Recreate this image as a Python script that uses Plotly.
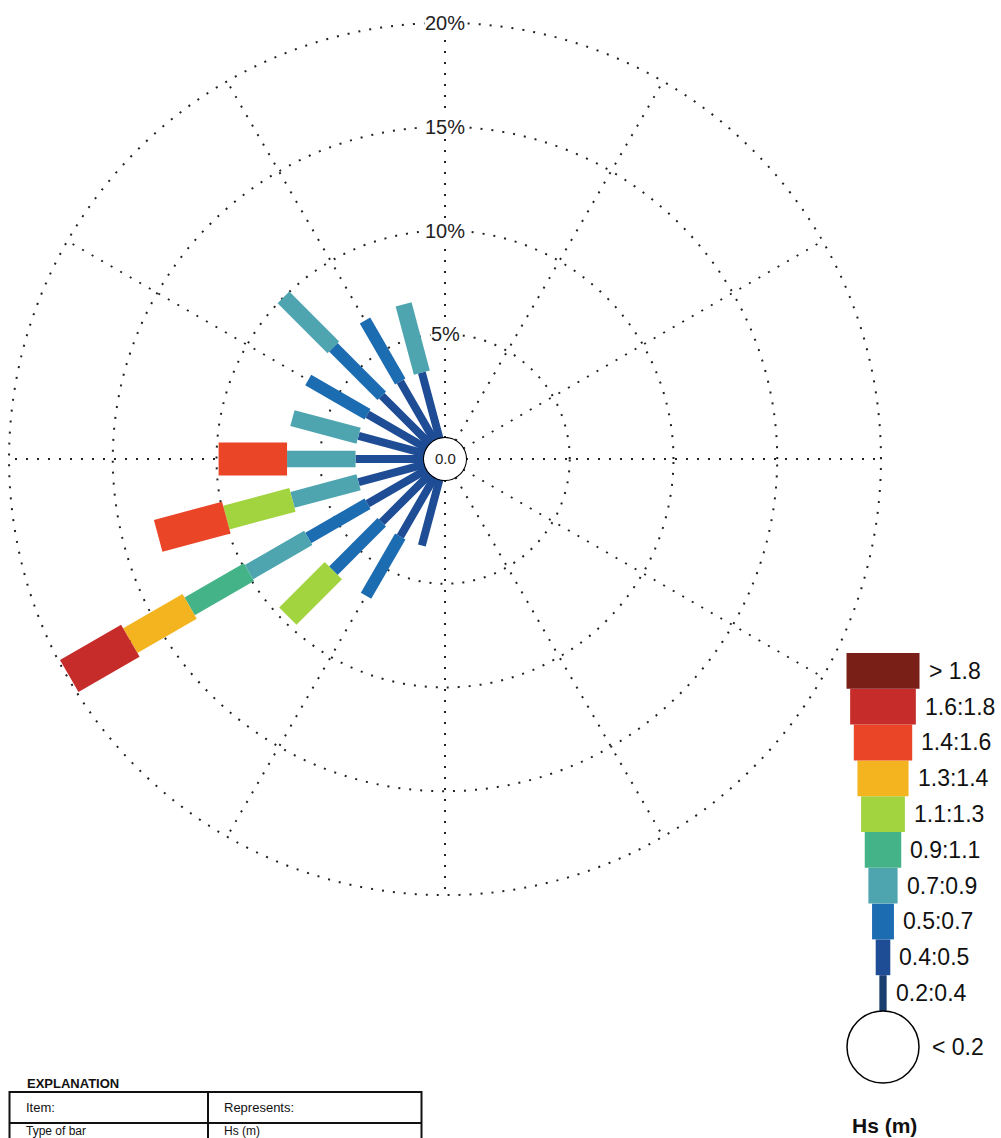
import plotly.graph_objects as go

# ---------------- data ----------------
directions = list(range(0, 360, 15))  # compass directions (deg, clockwise from N)
class_labels = ["0.2:0.4", "0.4:0.5", "0.5:0.7", "0.7:0.9", "0.9:1.1",
                "1.1:1.3", "1.3:1.4", "1.4:1.6", "1.6:1.8", "> 1.8"]
class_colors = ["#1b3e70", "#1e4c95", "#1c6cb1", "#4ea5b0", "#44b388",
                "#a2d440", "#f3b41f", "#ea4527", "#c62c2a", "#7a1e18"]
calm_label = "< 0.2"
calm_pct = 0.0
radial_ticks = [5, 10, 15, 20]
radial_tick_text = ["5%", "10%", "15%", "20%"]

# percent of time per Hs class, per direction (24 directions, 0..345 by 15)
#            0  15 30 45 60 75 90 105 120 135 150 165 180 195  210  225  240  255  270  285  300  315  330  345
hs_02_04 = [0, 0, 0, 0, 0, 0, 0, 0,  0,  0,  0,  0,  0,  0,   0,   0,   0,   0,   0,   0,   0,   0,   0,   0]
hs_04_05 = [0, 0, 0, 0, 0, 0, 0, 0,  0,  0,  0,  0,  0,  3.3, 3.3, 3.3, 3.3, 3.3, 3.3, 3.3, 3.3, 3.3, 3.3, 3.3]
hs_05_07 = [0, 0, 0, 0, 0, 0, 0, 0,  0,  0,  0,  0,  0,  0,   3.3, 3.3, 3.3, 0,   0,   0,   3.3, 3.3, 3.4, 0]
hs_07_09 = [0, 0, 0, 0, 0, 0, 0, 0,  0,  0,  0,  0,  0,  0,   0,   0,   3.3, 3.3, 3.3, 3.3, 0,   3.4, 0,   3.4]
hs_09_11 = [0, 0, 0, 0, 0, 0, 0, 0,  0,  0,  0,  0,  0,  0,   0,   0,   3.3, 0,   0,   0,   0,   0,   0,   0]
hs_11_13 = [0, 0, 0, 0, 0, 0, 0, 0,  0,  0,  0,  0,  0,  0,   0,   3.1, 0,   3.3, 0,   0,   0,   0,   0,   0]
hs_13_14 = [0, 0, 0, 0, 0, 0, 0, 0,  0,  0,  0,  0,  0,  0,   0,   0,   3.3, 0,   0,   0,   0,   0,   0,   0]
hs_14_16 = [0, 0, 0, 0, 0, 0, 0, 0,  0,  0,  0,  0,  0,  0,   0,   0,   0,   3.4, 3.3, 0,   0,   0,   0,   0]
hs_16_18 = [0, 0, 0, 0, 0, 0, 0, 0,  0,  0,  0,  0,  0,  0,   0,   0,   3.4, 0,   0,   0,   0,   0,   0,   0]
hs_gt_18 = [0, 0, 0, 0, 0, 0, 0, 0,  0,  0,  0,  0,  0,  0,   0,   0,   0,   0,   0,   0,   0,   0,   0,   0]
class_values = [hs_02_04, hs_04_05, hs_05_07, hs_07_09, hs_09_11,
                hs_11_13, hs_13_14, hs_14_16, hs_16_18, hs_gt_18]

# ---------------- styling / layout constants ----------------
W, H = 1001, 1138
CX, CY = 445, 459          # polar centre in page pixels
R = 437                    # outer polar radius (px)
HOLE_PX = 21               # calm circle radius (px)
RMAX = 20.05
K = (R - HOLE_PX) / RMAX   # px per percent

bar_px = [4, 8, 12, 16.5, 20.5, 24.5, 28.5, 33, 37, 41]          # rose bar widths (px)
key_px = [7.3, 14.6, 21.9, 29.2, 36.5, 43.8, 51.1, 58.4, 65.7, 73]  # key widths (px)
FONT = "Liberation Sans, Arial, sans-serif"

fig = go.Figure()

# ---------------- rose bars (constant-width radial strokes) ----------------
base = [0.0] * len(directions)
for ci, vals in enumerate(class_values):
    rr, tt = [], []
    for di, d in enumerate(directions):
        v = vals[di]
        if v > 0:
            rr += [base[di], base[di] + v, None]
            tt += [d, d, None]
            base[di] += v
    if rr:
        fig.add_trace(go.Scatterpolar(
            r=rr, theta=tt, mode="lines", connectgaps=False,
            line=dict(color=class_colors[ci], width=bar_px[ci]),
            showlegend=False, hoverinfo="skip", cliponaxis=False))

# calm circle (r = 0 sits on the hole edge)
fig.add_trace(go.Scatterpolar(
    r=[calm_pct] * 181, theta=list(range(0, 362, 2)), mode="lines",
    line=dict(color="black", width=2), showlegend=False, hoverinfo="skip",
    cliponaxis=False))

fig.update_layout(
    width=W, height=H, margin=dict(l=0, r=0, t=0, b=0),
    paper_bgcolor="white", plot_bgcolor="white", showlegend=False,
    polar=dict(
        domain=dict(x=[(CX - R) / W, (CX + R) / W],
                    y=[(H - CY - R) / H, (H - CY + R) / H]),
        hole=HOLE_PX / R,
        bgcolor="white",
        radialaxis=dict(range=[0, RMAX], tickvals=radial_ticks, showticklabels=False,
                        ticks="", showline=False, showgrid=True, gridcolor="#222",
                        gridwidth=2, griddash="2px,9px", angle=90),
        angularaxis=dict(direction="clockwise", rotation=90, tickmode="linear",
                         tick0=0, dtick=30, showticklabels=False, ticks="",
                         showline=False, showgrid=True, gridcolor="#222",
                         gridwidth=2, griddash="2px,9px"),
    ),
)

annotations = []
# radial percentage labels along north axis
for v, txt in zip(radial_ticks, radial_tick_text):
    ypx = CY - (HOLE_PX + v * K)
    annotations.append(dict(x=CX / W, y=1 - ypx / H, xref="paper", yref="paper",
                            text=txt, showarrow=False, bgcolor="white",
                            font=dict(family=FONT, size=20, color="#222"),
                            xanchor="center", yanchor="middle", borderpad=0))
# calm value
annotations.append(dict(x=CX / W, y=1 - CY / H, xref="paper", yref="paper",
                        text=f"{calm_pct:.1f}", showarrow=False,
                        font=dict(family=FONT, size=15, color="#222"),
                        xanchor="center", yanchor="middle"))

# ---------------- key (Hs classes) on a cartesian axis ----------------
KEY_CX = 883           # px
SEG_PX = 35.8          # px per class block
KEY_BOTTOM = 1011      # px (bottom of first block)
X0, X1 = 790, 1001
Y0, Y1 = 1100, 640
fig.add_trace(go.Bar(
    x=[0] * len(class_labels), y=[1] * len(class_labels),
    base=list(range(len(class_labels))), width=key_px,
    marker=dict(color=class_colors, line=dict(width=0)),
    xaxis="x", yaxis="y", showlegend=False, hoverinfo="skip"))
fig.add_trace(go.Scatter(
    x=[0], y=[-36 / SEG_PX], mode="markers",
    marker=dict(symbol="circle", size=72, color="white",
                line=dict(color="black", width=1.5)),
    xaxis="x", yaxis="y", showlegend=False, hoverinfo="skip", cliponaxis=False))
fig.update_layout(
    xaxis=dict(domain=[X0 / W, X1 / W], range=[X0 - KEY_CX, X1 - KEY_CX],
               visible=False, fixedrange=True),
    yaxis=dict(domain=[(H - Y0) / H, (H - Y1) / H],
               range=[(KEY_BOTTOM - Y0) / SEG_PX, (KEY_BOTTOM - Y1) / SEG_PX],
               visible=False, fixedrange=True),
)
for i, lab in enumerate(class_labels):
    annotations.append(dict(x=key_px[i] / 2 + 7, y=i + 0.5, xref="x", yref="y",
                            text=lab, showarrow=False, xanchor="left", yanchor="middle",
                            font=dict(family=FONT, size=23, color="#111")))
annotations.append(dict(x=36 + 11, y=-36 / SEG_PX, xref="x", yref="y", text=calm_label,
                        showarrow=False, xanchor="left", yanchor="middle",
                        font=dict(family=FONT, size=23, color="#111")))
annotations.append(dict(x=884 / W, y=1 - 1125 / H, xref="paper", yref="paper",
                        text="<b>Hs (m)</b>", showarrow=False, xanchor="center",
                        yanchor="middle", font=dict(family=FONT, size=21, color="#111")))

# ---------------- explanation table ----------------
tbl_left, tbl_mid, tbl_right = 9.5, 208, 421.5
tbl_top, tbl_row, tbl_bottom = 1092, 1123, 1180
shapes = []
line_style = dict(color="#111", width=2)
shapes.append(dict(type="rect", xref="paper", yref="paper",
                   x0=tbl_left / W, x1=tbl_right / W, y0=1 - tbl_bottom / H, y1=1 - tbl_top / H,
                   line=line_style))
shapes.append(dict(type="line", xref="paper", yref="paper",
                   x0=tbl_left / W, x1=tbl_right / W, y0=1 - tbl_row / H, y1=1 - tbl_row / H,
                   line=line_style))
shapes.append(dict(type="line", xref="paper", yref="paper",
                   x0=tbl_mid / W, x1=tbl_mid / W, y0=1 - tbl_bottom / H, y1=1 - tbl_top / H,
                   line=line_style))
annotations.append(dict(x=25 / W, y=1 - 1083 / H, xref="paper", yref="paper",
                        text="<b>EXPLANATION</b>", showarrow=False, xanchor="left",
                        yanchor="middle", font=dict(family=FONT, size=13, color="#111")))
table_cells = [("Item:", "Represents:", 1107, 13), ("Type of bar", "Hs (m)", 1130.5, 12)]
for left_txt, right_txt, ypx, fsize in table_cells:
    annotations.append(dict(x=24 / W, y=1 - ypx / H, xref="paper", yref="paper",
                            text=left_txt, showarrow=False, xanchor="left", yanchor="middle",
                            font=dict(family=FONT, size=fsize, color="#111")))
    annotations.append(dict(x=222 / W, y=1 - ypx / H, xref="paper", yref="paper",
                            text=right_txt, showarrow=False, xanchor="left", yanchor="middle",
                            font=dict(family=FONT, size=fsize, color="#111")))

fig.update_layout(annotations=annotations, shapes=shapes)
fig.write_html("out.html")
